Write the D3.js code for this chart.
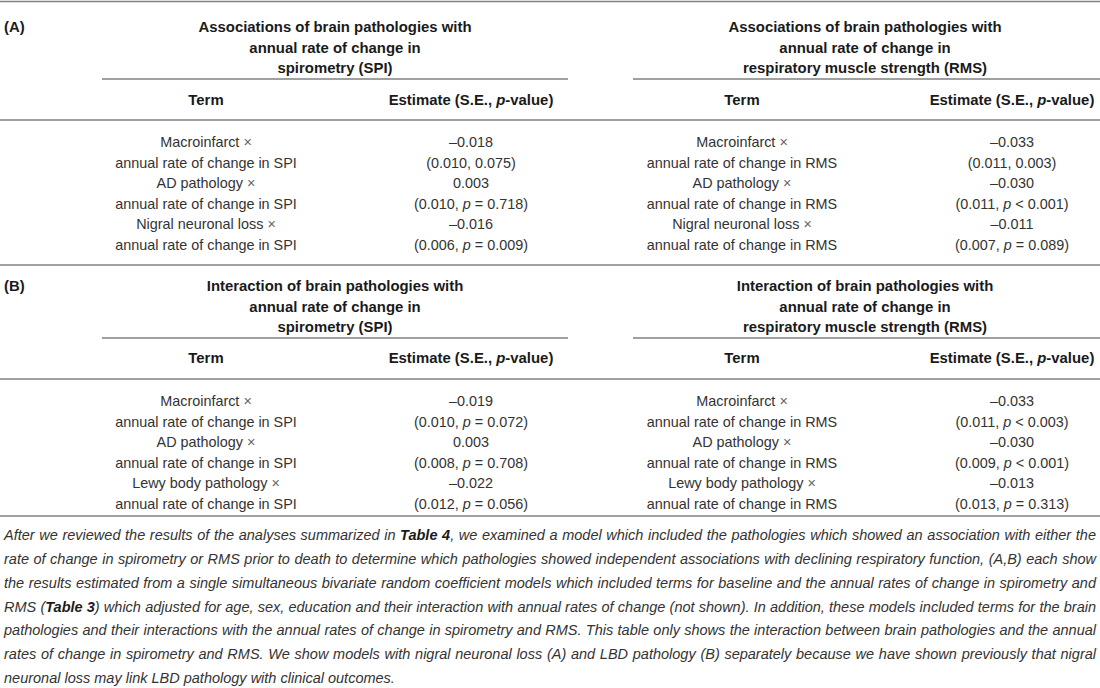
<!DOCTYPE html>
<html>
<head>
<meta charset="utf-8">
<script src="https://cdn.jsdelivr.net/npm/d3@7"></script>
<style>
  body { margin: 0; background: #fff; }
  svg text { font-family: "Liberation Sans", Arial, sans-serif; }
</style>
</head>
<body>
<svg id="tbl" width="1100" height="688"></svg>
<script>
// ---- table data ----
const panelLabels = ["(A)", "(B)"];
const titlesA = [
  ["Associations of brain pathologies with", "annual rate of change in", "spirometry (SPI)"],
  ["Associations of brain pathologies with", "annual rate of change in", "respiratory muscle strength (RMS)"]
];
const titlesB = [
  ["Interaction of brain pathologies with", "annual rate of change in", "spirometry (SPI)"],
  ["Interaction of brain pathologies with", "annual rate of change in", "respiratory muscle strength (RMS)"]
];
const headerCols = ["Term", "Estimate (S.E., p-value)"];
const outcomes = ["SPI", "RMS"];

const termsA = ["Macroinfarct", "AD pathology", "Nigral neuronal loss"];
const termsB = ["Macroinfarct", "AD pathology", "Lewy body pathology"];

// estimates, standard errors, p operator ("" = no p shown) and p-values
const estA_SPI = ["\u20130.018", "0.003", "\u20130.016"];
const seA_SPI  = ["0.010", "0.010", "0.006"];
const opA_SPI  = ["", "=", "="];
const pA_SPI   = ["0.075", "0.718", "0.009"];

const estA_RMS = ["\u20130.033", "\u20130.030", "\u20130.011"];
const seA_RMS  = ["0.011", "0.011", "0.007"];
const opA_RMS  = ["", "<", "="];
const pA_RMS   = ["0.003", "0.001", "0.089"];

const estB_SPI = ["\u20130.019", "0.003", "\u20130.022"];
const seB_SPI  = ["0.010", "0.008", "0.012"];
const opB_SPI  = ["=", "=", "="];
const pB_SPI   = ["0.072", "0.708", "0.056"];

const estB_RMS = ["\u20130.033", "\u20130.030", "\u20130.013"];
const seB_RMS  = ["0.011", "0.009", "0.013"];
const opB_RMS  = ["<", "<", "="];
const pB_RMS   = ["0.003", "0.001", "0.313"];

// caption lines, **..** marks bold
const captionLines = [
  "After we reviewed the results of the analyses summarized in **Table 4**, we examined a model which included the pathologies which showed an association with either the",
  "rate of change in spirometry or RMS prior to death to determine which pathologies showed independent associations with declining respiratory function, (A,B) each show",
  "the results estimated from a single simultaneous bivariate random coefficient models which included terms for baseline and the annual rates of change in spirometry and",
  "RMS (**Table 3**) which adjusted for age, sex, education and their interaction with annual rates of change (not shown). In addition, these models included terms for the brain",
  "pathologies and their interactions with the annual rates of change in spirometry and RMS. This table only shows the interaction between brain pathologies and the annual",
  "rates of change in spirometry and RMS. We show models with nigral neuronal loss (A) and LBD pathology (B) separately because we have shown previously that nigral",
  "neuronal loss may link LBD pathology with clinical outcomes."
];

const svg = d3.select("#tbl");
const W = 1100;
const FS = 14.4;      // body cells
const FSB = 14.9;     // bold headings
const FSC = 14.5;     // caption
const lineColor = "#808080";
const textColor = "#333";
const headColor = "#1a1a1a";

// column centres per group (SPI, RMS)
const groupX = d3.scaleOrdinal().domain([0, 1]).range([335, 865]);
const termX = d3.scaleOrdinal().domain([0, 1]).range([206, 742]);
const estX = d3.scaleOrdinal().domain([0, 1]).range([471, 1012]);
const underline = [[102, 568], [633, W]];

function hline(y, x1, x2) {
  svg.append("line")
    .attr("x1", x1).attr("x2", x2)
    .attr("y1", y).attr("y2", y)
    .attr("stroke", lineColor)
    .attr("stroke-width", 1.6);
}

function ctext(x, y, txt, bold, col) {
  return svg.append("text")
    .attr("x", x).attr("y", y)
    .attr("text-anchor", "middle")
    .attr("font-size", bold ? FSB : FS)
    .attr("font-weight", bold ? "bold" : "normal")
    .attr("fill", col || textColor)
    .text(txt);
}

function drawPanel(p) {
  svg.append("text")
    .attr("x", 4).attr("y", p.top + 5)
    .attr("font-size", FSB).attr("font-weight", "bold")
    .attr("fill", headColor)
    .text(p.label);

  const titleY = d3.scaleLinear().domain([0, 2]).range([p.top, p.top + 41]);
  p.titles.forEach((lines, g) => {
    lines.forEach((l, i) => ctext(groupX(g), titleY(i) + 5, l, true, headColor));
    hline(p.underY, underline[g][0], underline[g][1]);

    // header row
    ctext(termX(g), p.headY + 5, headerCols[0], true, headColor);
    const h = ctext(estX(g), p.headY + 5, "", true, headColor);
    h.append("tspan").text("Estimate (S.E., ");
    h.append("tspan").attr("font-style", "italic").text("p");
    h.append("tspan").text("-value)");
  });
  hline(p.headLine, 0, W);

  const rowY = d3.scaleLinear().domain([0, 5]).range([p.rowTop, p.rowBottom]);
  p.series.forEach((s, g) => {
    p.terms.forEach((t, i) => {
      const tt = ctext(termX(g), rowY(i * 2) + 5, t + " ");
      tt.append("tspan").attr("fill", "#666").text("\u00d7");
      ctext(termX(g), rowY(i * 2 + 1) + 5, "annual rate of change in " + outcomes[g]);
      ctext(estX(g), rowY(i * 2) + 5, s.est[i]);
      const e = ctext(estX(g), rowY(i * 2 + 1) + 5, "");
      if (s.op[i] === "") {
        e.text("(" + s.se[i] + ", " + s.p[i] + ")");
      } else {
        e.append("tspan").text("(" + s.se[i] + ", ");
        e.append("tspan").attr("font-style", "italic").text("p");
        e.append("tspan").text(" " + s.op[i] + " " + s.p[i] + ")");
      }
    });
  });
  hline(p.endLine, 0, W);
}

hline(1.5, 0, W);

drawPanel({
  label: panelLabels[0], titles: titlesA, terms: termsA,
  top: 27, underY: 79, headY: 100, headLine: 120,
  rowTop: 142, rowBottom: 245, endLine: 265,
  series: [
    { est: estA_SPI, se: seA_SPI, op: opA_SPI, p: pA_SPI },
    { est: estA_RMS, se: seA_RMS, op: opA_RMS, p: pA_RMS }
  ]
});

drawPanel({
  label: panelLabels[1], titles: titlesB, terms: termsB,
  top: 286, underY: 338, headY: 358, headLine: 379,
  rowTop: 401, rowBottom: 504, endLine: 516,
  series: [
    { est: estB_SPI, se: seB_SPI, op: opB_SPI, p: pB_SPI },
    { est: estB_RMS, se: seB_RMS, op: opB_RMS, p: pB_RMS }
  ]
});

// caption, justified to the table width except the last line
const capY = d3.scaleLinear().domain([0, captionLines.length - 1]).range([535, 678]);
const capLeft = 4, capRight = 1096;
captionLines.forEach((line, i) => {
  const t = svg.append("text")
    .attr("x", capLeft).attr("y", capY(i) + 5)
    .attr("font-size", FSC)
    .attr("font-style", "italic")
    .attr("fill", textColor);
  line.split("**").forEach((part, k) => {
    if (!part) return;
    const ts = t.append("tspan").text(part);
    if (k % 2 === 1) ts.attr("font-weight", "bold").attr("fill", headColor);
  });
  if (i < captionLines.length - 1) {
    const natural = t.node().getComputedTextLength();
    const gaps = line.split(" ").length - 1;
    const extra = (capRight - capLeft - natural) / gaps;
    t.style("word-spacing", extra + "px");
  }
});
</script>
</body>
</html>
